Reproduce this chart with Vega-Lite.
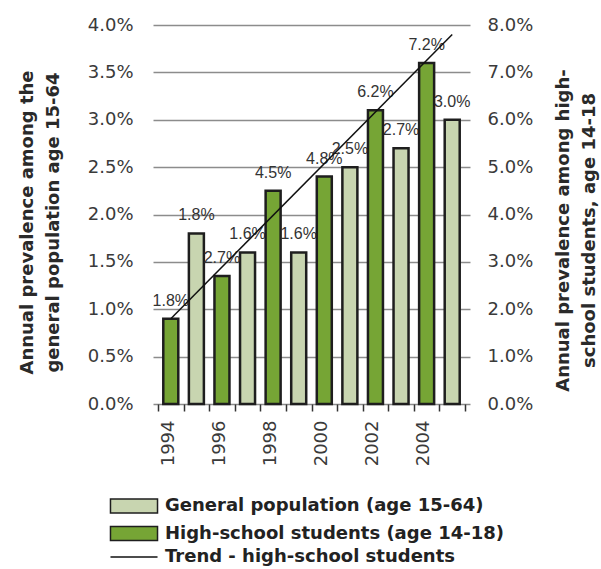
{
  "$schema": "https://vega.github.io/schema/vega-lite/v6.json",
  "width": 317,
  "height": 379,
  "autosize": "none",
  "padding": {"left": 153, "top": 25, "right": 131, "bottom": 165},
  "background": "white",
  "config": {"view": {"stroke": null}},
  "datasets": {
    "gen": [
      {"year": 1995, "value": 0.018, "series": "General population (age 15-64)"},
      {"year": 1997, "value": 0.016, "series": "General population (age 15-64)"},
      {"year": 1999, "value": 0.016, "series": "General population (age 15-64)"},
      {"year": 2001, "value": 0.025, "series": "General population (age 15-64)"},
      {"year": 2003, "value": 0.027, "series": "General population (age 15-64)"},
      {"year": 2005, "value": 0.030, "series": "General population (age 15-64)"}
    ],
    "hs": [
      {"year": 1994, "value": 0.018, "series": "High-school students (age 14-18)"},
      {"year": 1996, "value": 0.027, "series": "High-school students (age 14-18)"},
      {"year": 1998, "value": 0.045, "series": "High-school students (age 14-18)"},
      {"year": 2000, "value": 0.048, "series": "High-school students (age 14-18)"},
      {"year": 2002, "value": 0.062, "series": "High-school students (age 14-18)"},
      {"year": 2004, "value": 0.072, "series": "High-school students (age 14-18)"}
    ],
    "trend": [
      {"year": 1994, "value": 0.018, "series": "Trend - high-school students"},
      {"year": 2005, "value": 0.078, "series": "Trend - high-school students"}
    ]
  },
  "resolve": {"scale": {"y": "independent"}},
  "encoding": {
    "x": {"field": "year", "type": "quantitative",
      "scale": {"domain": [1993.5, 2005.5], "nice": false, "zero": false},
      "axis": {"values": [1993.5, 1994.5, 1995.5, 1996.5, 1997.5, 1998.5, 1999.5, 2000.5, 2001.5, 2002.5, 2003.5, 2004.5, 2005.5],
        "labelExpr": "((datum.value + 0.5) % 2 == 0 && datum.value < 2005) ? format(datum.value + 0.5, 'd') : ''",
        "labelAngle": -90, "labelOffset": 10, "labelPadding": 9, "labelOverlap": false, "labelBound": false, "labelFlush": false,
        "ticks": true, "tickSize": 7, "tickColor": "#333333", "tickWidth": 1.5, "domain": false, "grid": false,
        "labelFont": "DejaVu Sans", "labelFontSize": 18, "labelColor": "#3a3a3a", "title": null}}
  },
  "layer": [
    {
      "data": {"name": "gen"},
      "encoding": {
        "y": {"field": "value", "type": "quantitative",
          "scale": {"domain": [0, 0.04]},
          "axis": {"orient": "left", "format": ".1%", "values": [0, 0.005, 0.01, 0.015, 0.02, 0.025, 0.03, 0.035, 0.04],
            "grid": true, "gridColor": "#8c8c8c", "gridWidth": 1.5, "gridOpacity": 1, "domain": false, "ticks": false,
            "labelPadding": 20, "labelFont": "DejaVu Sans", "labelFontSize": 18, "labelColor": "#3a3a3a",
            "title": ["Annual prevalence among the", "general population age 15-64"], "titleY": 197,
            "titleFont": "DejaVu Sans", "titleFontSize": 18, "titleFontWeight": "bold", "titleColor": "#2a2a2a", "titleLineHeight": 26, "titlePadding": 25}}
      },
      "layer": [
        {
          "mark": {"type": "bar", "width": 15, "stroke": "#1e1e1e", "strokeWidth": 2.5},
          "encoding": {
            "fill": {"field": "series", "type": "nominal",
              "scale": {"domain": ["General population (age 15-64)", "High-school students (age 14-18)"], "range": ["#c8d5b0", "#76a535"]},
              "legend": {
                "orient": "none", "legendX": -28, "legendY": 472, "direction": "vertical", "title": null, "padding": 0,
                "symbolType": "M-3.36,-1H3.36V1H-3.36Z", "symbolSize": 196, "symbolStrokeWidth": 1.5, "symbolStrokeColor": "#333333", "symbolOpacity": 1,
                "labelFont": "DejaVu Sans", "labelFontSize": 18, "labelFontWeight": "bold", "labelColor": "#222222", "labelOffset": 22, "rowPadding": 7.5, "labelLimit": 400
              }}
          }
        },
        {
          "mark": {"type": "text", "dy": -18, "baseline": "middle", "font": "Liberation Sans Narrow, Liberation Sans", "fontSize": 16, "color": "#333333"},
          "encoding": {
            "text": {"field": "value", "type": "quantitative", "format": ".1%"}
          }
        }
      ]
    },
    {
      "encoding": {
        "y": {"field": "value", "type": "quantitative",
          "scale": {"domain": [0, 0.08]},
          "axis": {"orient": "right", "format": ".1%", "values": [0, 0.01, 0.02, 0.03, 0.04, 0.05, 0.06, 0.07, 0.08],
            "grid": false, "domain": false, "ticks": false,
            "labelPadding": 17, "labelFont": "DejaVu Sans", "labelFontSize": 18, "labelColor": "#3a3a3a",
            "title": ["Annual prevalence among high-", "school students, age 14-18"], "titleAngle": -90, "titleY": 205,
            "titleFont": "DejaVu Sans", "titleFontSize": 18, "titleFontWeight": "bold", "titleColor": "#2a2a2a", "titleLineHeight": 26, "titlePadding": 14}}
      },
      "layer": [
        {
          "data": {"name": "hs"},
          "mark": {"type": "bar", "width": 15, "stroke": "#1e1e1e", "strokeWidth": 2.5},
          "encoding": {
            "fill": {"field": "series", "type": "nominal"}
          }
        },
        {
          "data": {"name": "hs"},
          "mark": {"type": "text", "dy": -18, "baseline": "middle", "font": "Liberation Sans Narrow, Liberation Sans", "fontSize": 16, "color": "#333333"},
          "encoding": {
            "text": {"field": "value", "type": "quantitative", "format": ".1%"}
          }
        },
        {
          "data": {"name": "trend"},
          "mark": {"type": "line", "strokeWidth": 1.5},
          "encoding": {
            "stroke": {"field": "series", "type": "nominal",
              "scale": {"domain": ["Trend - high-school students"], "range": ["#111111"]},
              "legend": {
                "orient": "none", "legendX": -28, "legendY": 523, "direction": "vertical", "title": null, "padding": 0,
                "symbolType": "M-3.36,0H3.36", "symbolSize": 196, "symbolStrokeWidth": 1.5,
                "labelFont": "DejaVu Sans", "labelFontSize": 18, "labelFontWeight": "bold", "labelColor": "#222222", "labelOffset": 22, "labelLimit": 400
              }}
          }
        }
      ]
    }
  ]
}
